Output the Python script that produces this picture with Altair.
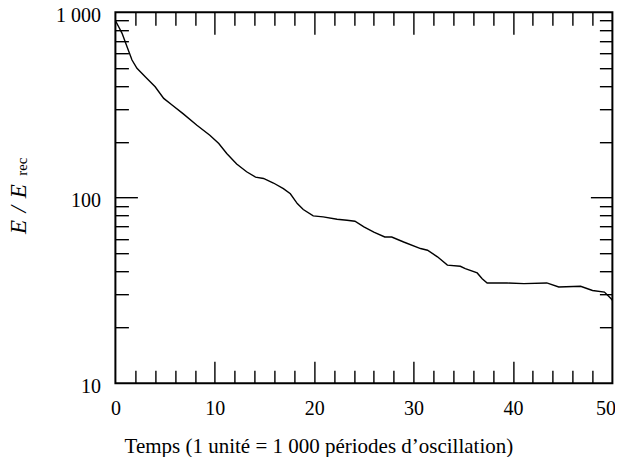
import altair as alt
import pandas as pd

# Time (units of 1 000 oscillation periods) and E/E_rec
t_vals = [0, 0.3, 0.67, 1.17, 1.67, 2.17, 3.0, 4.0, 4.86, 5.7, 6.8, 8.2, 9.5,
          10.4, 11.2, 12.2, 13.2, 14.1, 14.9, 15.9, 16.9, 17.6, 18.3, 18.9,
          19.9, 20.9, 22.3, 23.3, 24.1, 25.0, 26.0, 27.1, 27.8, 29.0, 30.7,
          31.4, 32.4, 33.4, 34.7, 35.2, 36.4, 36.9, 37.4, 39.4, 41.1, 43.4,
          44.6, 46.8, 48.0, 49.2, 49.85, 50]
e_vals = [900, 840, 769, 652, 552, 498, 449, 396, 343, 316, 284, 246, 217,
          196, 173, 152, 138, 129, 127, 120, 112, 105, 93, 86.4,
          79.8, 78.8, 76.5, 75.6, 74.7, 69.6, 65.3, 61.4, 61.4, 57.7, 53.2,
          52.1, 48.0, 43.3, 42.7, 41.5, 39.3, 36.6, 34.7, 34.7, 34.4, 34.7,
          33.0, 33.3, 31.6, 31.0, 28.6, 28.0]

x_major = [10, 20, 30, 40]
x_minor = [2, 4, 6, 8, 12, 14, 16, 18, 22, 24, 26, 28, 32, 34, 36, 38, 42, 44, 46, 48]
x_labels = [0, 10, 20, 30, 40]
x_last_label = [50]
y_major = [100]
y_minor = [20, 30, 40, 50, 60, 70, 80, 90, 200, 300, 400, 500, 600, 700, 800, 900]
y_labels = [10, 100, 1000]

x_title = "Temps (1 unité = 1 000 périodes d\u2019oscillation)"
y_title_main = "E\u2004/\u2004E"
y_title_sub = "rec"

df = pd.DataFrame({"t": t_vals, "E": e_vals})

FONT = "Liberation Serif"
W, H = 497, 371
MAJ, MIN = 22, 13

xs = alt.Scale(domain=[0, 50], nice=False, zero=False)
ys = alt.Scale(type="log", domain=[10, 1000], nice=False)


def tick_axis(orient, values, size):
    return alt.Axis(orient=orient, values=values, tickSize=size, offset=-size,
                    labels=False, domain=False, grid=False, title=None,
                    tickColor="black", tickWidth=1.4)


def layer(xaxis, yaxis, visible=False):
    m = alt.Chart(df).mark_line(color="black", strokeWidth=1.4,
                                opacity=1 if visible else 0)
    return m.encode(
        x=alt.X("t:Q", scale=xs, axis=xaxis),
        y=alt.Y("E:Q", scale=ys, axis=yaxis),
    )


label_x = alt.Axis(orient="bottom", values=x_labels, ticks=False, domain=False,
                   grid=False, labelFont=FONT, labelFontSize=20, labelColor="black",
                   labelPadding=15, title=x_title, titleFont=FONT, titleFontSize=21,
                   titleFontWeight="normal", titleColor="black",
                   titleX=203, titleY=69, titleAlign="center",
                   titleBaseline="alphabetic", labelFlush=False)
last_x = alt.Axis(orient="bottom", values=x_last_label, ticks=False, domain=False,
                  grid=False, labelFont=FONT, labelFontSize=20, labelColor="black",
                  labelPadding=15, labelAlign="right", labelOffset=3,
                  title=None, labelFlush=False)
label_y = alt.Axis(orient="left", values=y_labels, ticks=False, domain=False,
                   grid=False, labelFont=FONT, labelFontSize=20, labelColor="black",
                   labelPadding=15, labelOffset=3, labelBaseline="middle",
                   labelExpr="datum.value >= 1000 ? '1 000' : format(datum.value, 'd')",
                   title=None, labelFlush=False)

line = layer(label_x, label_y, visible=True)
l2 = layer(tick_axis("bottom", x_major, MAJ), tick_axis("left", y_major, MAJ))
l3 = layer(tick_axis("bottom", x_minor, MIN), tick_axis("left", y_minor, MIN))
l4 = layer(tick_axis("top", x_major, MAJ), tick_axis("right", y_major, MAJ))
l5 = layer(tick_axis("top", x_minor, MIN), tick_axis("right", y_minor, MIN))
l6 = alt.Chart(df).mark_line(opacity=0).encode(
    x=alt.X("t:Q", scale=xs, axis=last_x),
    y=alt.Y("E:Q", scale=ys, axis=None),
)

lab = pd.DataFrame({"a": [0]})
ytitle_main = alt.Chart(lab).mark_text(
    text=y_title_main, font=FONT, fontSize=23, fontStyle="italic", angle=270,
    align="center", baseline="alphabetic", color="black"
).encode(x=alt.value(-89.5), y=alt.value(197))
ytitle_sub = alt.Chart(lab).mark_text(
    text=y_title_sub, font=FONT, fontSize=15, angle=270,
    align="center", baseline="alphabetic", color="black"
).encode(x=alt.value(-88.5), y=alt.value(154.5))

chart = alt.layer(l2, l3, l4, l5, l6, line, ytitle_main, ytitle_sub).resolve_axis(
    x="independent", y="independent"
).properties(
    width=W, height=H,
    autosize=alt.AutoSizeParams(type="none"),
    padding={"left": 107.4, "top": 4.2, "right": 2.6, "bottom": 74},
).configure_view(stroke="black", strokeWidth=2)

chart.save("out.html", embed_options={"renderer": "svg", "actions": False})
